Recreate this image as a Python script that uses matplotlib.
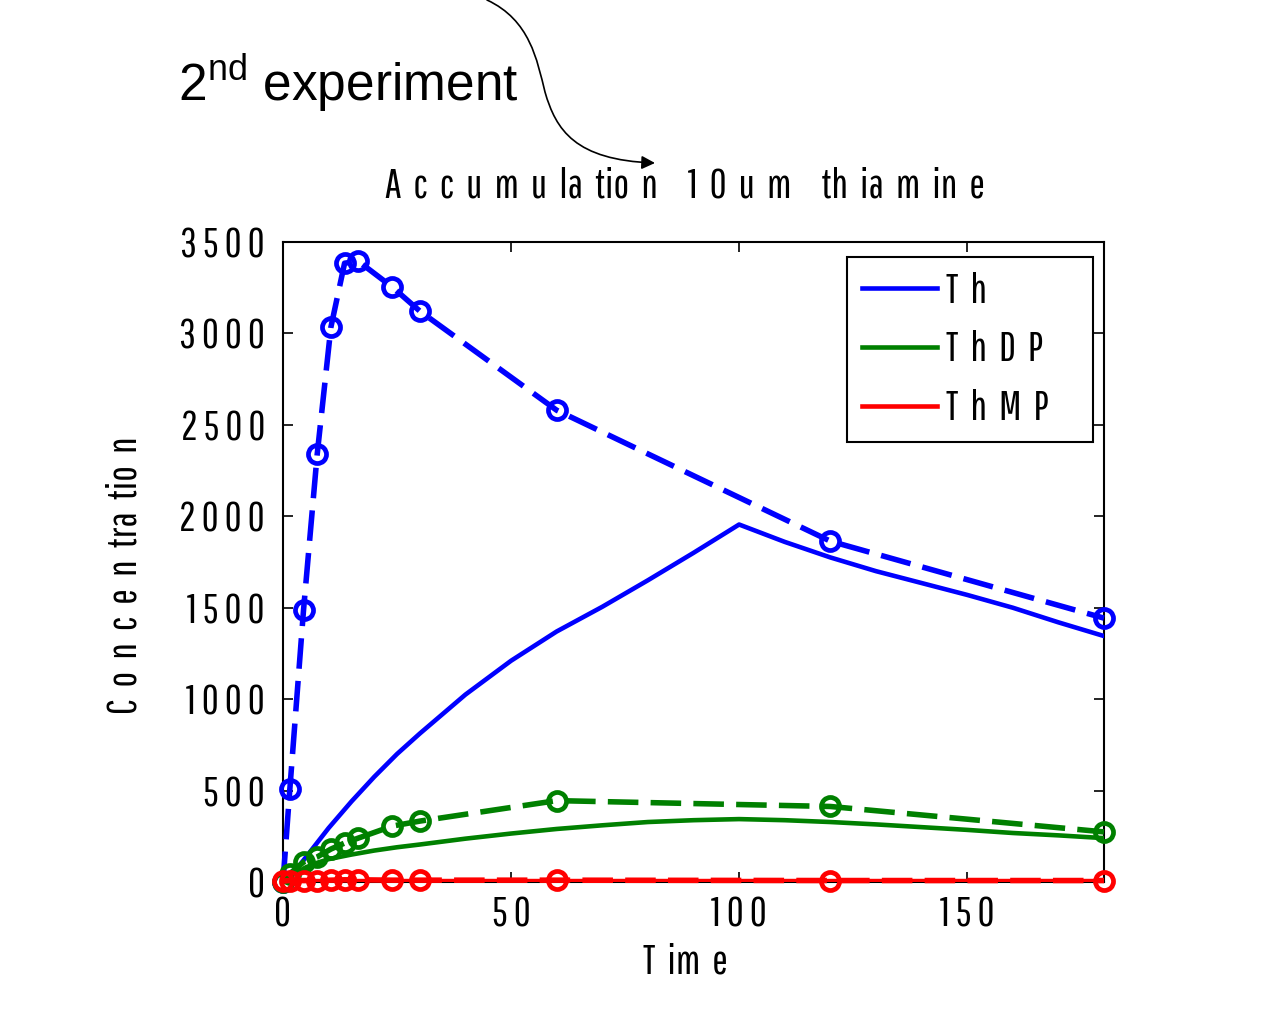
import matplotlib
matplotlib.use("Agg")
import matplotlib.pyplot as plt
from matplotlib.path import Path
from matplotlib.patches import FancyArrowPatch

# measured points (dashed with circles)
t_meas = [0, 1.5, 4.5, 7.5, 10.5, 13.5, 16.5, 24, 30, 60, 120, 180]
th_meas = [0, 508, 1487, 2340, 3034, 3384, 3395, 3253, 3122, 2580, 1864, 1443]
thdp_meas = [0, 45, 109, 137, 180, 213, 240, 306, 333, 445, 413, 274]
thmp_meas = [5, 8, 8, 8, 10, 12, 12, 10, 10, 10, 8, 8]

# model curves (solid)
t_mod = [0, 2.5, 5, 7.5, 10, 15, 20, 25, 30, 40, 50, 60, 70, 80, 90, 100,
         110, 120, 130, 140, 150, 160, 170, 180]
th_mod = [0, 55, 135, 215, 295, 440, 575, 700, 812, 1025, 1210, 1370, 1505,
          1650, 1800, 1955, 1860, 1775, 1700, 1635, 1570, 1500, 1420, 1345]
thdp_mod = [0, 45, 80, 105, 125, 150, 172, 190, 205, 237, 265, 290, 310, 328,
            338, 344, 338, 328, 315, 300, 285, 268, 255, 240]
thmp_mod = [0, 3, 4, 5, 5, 5, 5, 5, 5, 5, 5, 5, 5, 5, 5, 5, 5, 5, 5, 5, 5, 5, 5, 5]

xticks = [0, 50, 100, 150]
xtick_labels = ["0", "5 0", "1 0 0", "1 5 0"]
yticks = [0, 500, 1000, 1500, 2000, 2500, 3000, 3500]
ytick_labels = ["0", "5 0 0", "1 0 0 0", "1 5 0 0", "2 0 0 0", "2 5 0 0", "3 0 0 0", "3 5 0 0"]

narrow = ['Pathway Gothic One', 'Barlow Condensed', 'Liberation Sans', 'DejaVu Sans']
fs = 30
plt.rcParams['mathtext.fontset'] = 'custom'
plt.rcParams['mathtext.rm'] = 'Liberation Sans'

fig = plt.figure(figsize=(12.72, 10.36), dpi=100)
ax = fig.add_axes([283/1272, 1-882/1036, (1104-283)/1272, (882-242)/1036])

blue = '#0000ff'
green = '#008000'
red = '#ff0000'

l1, = ax.plot(t_mod, th_mod, color=blue, lw=3.3, label='T  h', zorder=3)
l2, = ax.plot(t_mod, thdp_mod, color=green, lw=3.3, label='T  h  D  P', zorder=3)
l3, = ax.plot(t_mod, thmp_mod, color=red, lw=3.3, label='T  h  M  P', zorder=5)

dash = (5.5, 2.2)
ax.plot(t_meas, th_meas, color=blue, lw=4, dashes=dash, marker='o', ms=13,
        mfc='none', mew=3.4, zorder=4, clip_on=False)
ax.plot(t_meas, thdp_meas, color=green, lw=4, dashes=dash, marker='o', ms=13,
        mfc='none', mew=3.4, zorder=4, clip_on=False)
ax.plot(t_meas, thmp_meas, color=red, lw=4, dashes=dash, marker='o', ms=13,
        mfc='none', mew=3.4, zorder=6, clip_on=False)

ax.set_xlim(0, 180)
ax.set_ylim(0, 3500)
ax.set_xticks(xticks)
ax.set_xticklabels(xtick_labels, family=narrow, fontsize=fs)
ax.set_yticks(yticks)
ax.set_yticklabels(ytick_labels, family=narrow, fontsize=fs)
ax.tick_params(direction='in', length=7, width=1.2, top=True, right=True)
ax.tick_params(axis='x', pad=10)
ax.tick_params(axis='y', pad=13)
for s in ax.spines.values():
    s.set_linewidth(1.5)

ax.set_title('A  c  c  u  m  u  la  tio  n     1  0  u  m     th  ia  m  in  e', family=narrow,
             fontsize=fs, y=1.07, pad=0, x=0.49)
ax.set_xlabel('T  im  e', family=narrow, fontsize=fs)
ax.xaxis.set_label_coords(0.49, -0.095)
ax.set_ylabel('C  o  n  c  e  n  tra  tio  n', family=narrow, fontsize=fs)
ax.yaxis.set_label_coords(-0.17, 0.48)

# trailing spaces leave room on the right of the legend box, like the reference
leg = ax.legend(handles=[l1, l2, l3],
                labels=[h.get_label() + '     ' for h in (l1, l2, l3)],
                loc='upper right',
                bbox_to_anchor=((1093-283)/821, (882-257)/640),
                prop={'family': narrow, 'size': fs},
                handlelength=1.82, handletextpad=0.2, labelspacing=0.5,
                borderaxespad=0, fancybox=False, framealpha=1, edgecolor='black',
                borderpad=0.35)
leg.get_frame().set_linewidth(1.5)

fig.text(178/1272, 1-83/1036, r'2$^{\rm nd}$ experiment', family='Liberation Sans',
         fontsize=37, va='center', ha='left')

# curved arrow
pts = [(487, 0), (530, 20), (537, 60), (545, 92),
       (556, 130), (575, 160), (655, 163)]
pts = [(x/1272, 1-y/1036) for x, y in pts]
codes = [Path.MOVETO, Path.CURVE4, Path.CURVE4, Path.CURVE4,
         Path.CURVE4, Path.CURVE4, Path.CURVE4]
arrow = FancyArrowPatch(path=Path(pts, codes), arrowstyle='-|>', mutation_scale=20,
                        lw=1.2, color='black', transform=fig.transFigure)
fig.patches.append(arrow)

fig.savefig('out.png', dpi=100)
